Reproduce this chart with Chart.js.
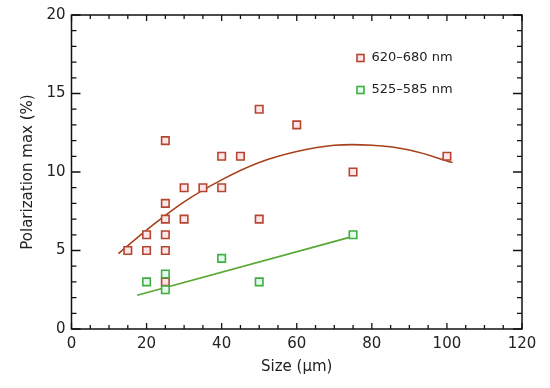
<!DOCTYPE html>
<html>
<head>
<meta charset="utf-8">
<script src="https://cdn.jsdelivr.net/npm/chart.js@4/dist/chart.umd.min.js"></script>
<style>
  html, body { margin: 0; padding: 0; background: #fff; }
  #wrap { width: 550px; height: 388px; position: relative; }
</style>
</head>
<body>
<div id="wrap"><canvas id="c" width="550" height="388"></canvas></div>
<script>
// ---- data ----
const redLabel = "620\u2013680 nm";
const greenLabel = "525\u2013585 nm";
const redX = [15, 20, 20, 25, 25, 25, 25, 25, 25, 30, 30, 35, 40, 40, 45, 50, 50, 60, 75, 100];
const redY = [5, 5, 6, 3, 5, 6, 7, 8, 12, 7, 9, 9, 9, 11, 11, 7, 14, 13, 10, 11];
const greenX = [20, 25, 25, 40, 50, 75];
const greenY = [3, 3.5, 2.5, 4.5, 3, 6];
const redFitX = [12.5, 20, 30, 40, 50, 60, 70, 80, 90, 101.5];
const redFitY = [4.8, 6.3, 8.1, 9.5, 10.6, 11.3, 11.7, 11.7, 11.4, 10.6];
const greenFitX = [17.5, 75];
const greenFitY = [2.15, 5.9];
const xTicks = [0, 20, 40, 60, 80, 100, 120];
const yTicks = [0, 5, 10, 15, 20];

const zip = (xs, ys) => xs.map((x, i) => ({ x: x, y: ys[i] }));

const RED = '#b5452f', RED_FILL = '#fde6ea', RED_LINE = '#a8401c';
const GREEN = '#3fb03f', GREEN_FILL = '#e4fbf0', GREEN_LINE = '#56a832';
const FONT = "'DejaVu Sans', sans-serif";

// inward ticks + frame
const framePlugin = {
  id: 'frame',
  afterDraw(chart) {
    const { ctx, chartArea: a, scales: { x, y } } = chart;
    ctx.save();
    ctx.strokeStyle = '#111';
    ctx.lineWidth = 1.5;
    ctx.strokeRect(a.left, a.top, a.right - a.left, a.bottom - a.top);
    ctx.lineWidth = 1.3;
    ctx.beginPath();
    for (let v = 0; v <= 120; v += 5) {
      const px = x.getPixelForValue(v);
      const len = (v % 20 === 0) ? 6 : 4;
      ctx.moveTo(px, a.bottom); ctx.lineTo(px, a.bottom - len);
      ctx.moveTo(px, a.top); ctx.lineTo(px, a.top + len);
    }
    for (let v = 0; v <= 20; v += 1) {
      const py = y.getPixelForValue(v);
      const len = (v % 5 === 0) ? 9 : 5;
      ctx.moveTo(a.left, py); ctx.lineTo(a.left + len, py);
      ctx.moveTo(a.right, py); ctx.lineTo(a.right - len, py);
    }
    ctx.stroke();
    ctx.restore();
  }
};

// in-plot legend
const legendPlugin = {
  id: 'inLegend',
  afterDraw(chart) {
    const { ctx, chartArea: a } = chart;
    const items = [chart.data.datasets[0], chart.data.datasets[1]];
    const x0 = a.left + 289, y0 = a.top + 43, dy = 32;
    ctx.save();
    items.forEach((ds, i) => {
      const cy = y0 + i * dy;
      ctx.fillStyle = ds.pointBackgroundColor;
      ctx.strokeStyle = ds.pointBorderColor;
      ctx.lineWidth = 1.6;
      ctx.fillRect(x0 - 3.5, cy - 3.5, 7, 7);
      ctx.strokeRect(x0 - 3.5, cy - 3.5, 7, 7);
      ctx.fillStyle = '#222';
      ctx.font = "13px " + FONT;
      ctx.textBaseline = 'middle';
      ctx.textAlign = 'left';
      ctx.fillText(ds.label, x0 + 11, cy);
    });
    ctx.restore();
  }
};

new Chart(document.getElementById('c'), {
  type: 'scatter',
  data: {
    datasets: [
      { label: redLabel, data: zip(redX, redY), pointStyle: 'rect', pointRadius: 5.3,
        pointBorderWidth: 1.6, pointBorderColor: RED, pointBackgroundColor: RED_FILL, order: 1 },
      { label: greenLabel, data: zip(greenX, greenY), pointStyle: 'rect', pointRadius: 5.3,
        pointBorderWidth: 1.6, pointBorderColor: GREEN, pointBackgroundColor: GREEN_FILL, order: 0 },
      { label: 'fit1', data: zip(redFitX, redFitY), showLine: true, pointRadius: 0,
        borderColor: RED_LINE, borderWidth: 1.6, tension: 0.4, fill: false, order: 2 },
      { label: 'fit2', data: zip(greenFitX, greenFitY), showLine: true, pointRadius: 0,
        borderColor: GREEN_LINE, borderWidth: 1.6, fill: false, order: 2 }
    ]
  },
  options: {
    responsive: false,
    animation: false,
    devicePixelRatio: 1,
    layout: { padding: { top: 13, right: 28, left: 0, bottom: 0 } },
    plugins: { legend: { display: false }, tooltip: { enabled: false } },
    scales: {
      x: {
        type: 'linear', min: 0, max: 120,
        afterFit(s) { s.height = 59; },
        afterBuildTicks(s) { s.ticks = xTicks.map(v => ({ value: v })); },
        grid: { display: false, drawTicks: false },
        border: { display: false },
        ticks: { padding: 6, color: '#222', font: { family: FONT, size: 15 }, maxRotation: 0 },
        title: { display: true, text: 'Size (\u03bcm)', color: '#222',
                 font: { family: FONT, size: 15 }, padding: { top: 0, bottom: 12 } }
      },
      y: {
        type: 'linear', min: 0, max: 20,
        afterFit(s) { s.width = 71.5; },
        afterBuildTicks(s) { s.ticks = yTicks.map(v => ({ value: v })); },
        grid: { display: false, drawTicks: false },
        border: { display: false },
        ticks: { padding: 6, color: '#222', font: { family: FONT, size: 15 } },
        title: { display: true, text: 'Polarization max (%)', color: '#222',
                 font: { family: FONT, size: 15 }, padding: { top: 19, bottom: 0 } }
      }
    }
  },
  plugins: [framePlugin, legendPlugin]
});
</script>
</body>
</html>
